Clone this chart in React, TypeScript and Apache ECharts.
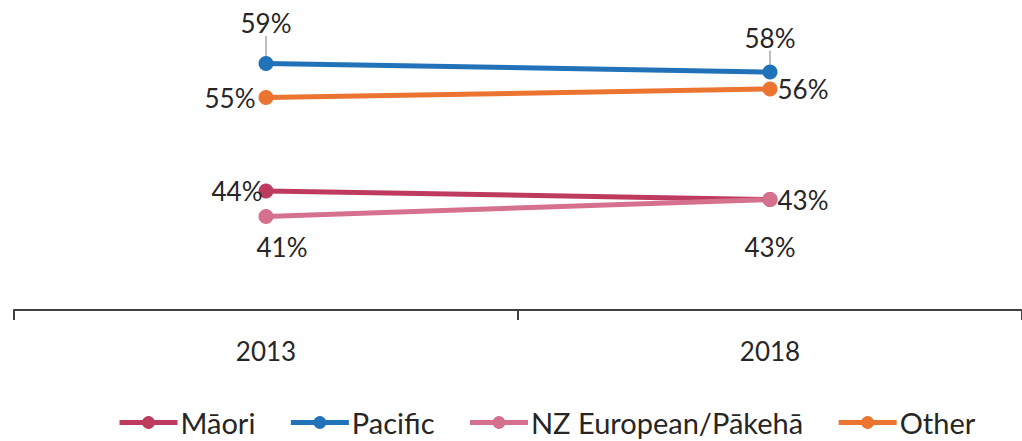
import React, { useEffect, useRef } from "react";
import * as echarts from "echarts";

const years = ["2013", "2018"];
const maori = [44, 43];
const pacific = [59, 58];
const nzEuropean = [41, 43];
const other = [55, 56];
const seriesNames = ["Māori", "Pacific", "NZ European/Pākehā", "Other"];
const colors = ["#BE3A5E", "#2272B9", "#D6708F", "#EB7431"];

const FONT = "Lato";
const TXT = "#262626";

export default function App() {
  const ref = useRef<HTMLDivElement>(null);
  useEffect(() => {
    if (!ref.current) return;
    const chart = echarts.init(ref.current, undefined, { renderer: "svg" });
    const lbl = (position: any, distance: number, offset?: number[]) => ({
      show: true,
      position,
      distance,
      offset: offset || [0, 0],
      formatter: "{c}%",
      fontFamily: FONT,
      fontSize: 26,
      color: TXT,
    });
    const mk = (name: string, vals: number[], color: string, labels: any[], extra: any = {}) => ({
      type: "line",
      name,
      data: vals.map((v, i) => ({ value: v, label: labels[i] })),
      symbol: "circle",
      symbolSize: 15,
      lineStyle: { width: 5, color },
      itemStyle: { color },
      ...extra,
    });
    chart.setOption({
      animation: false,
      color: colors,
      grid: { left: 14, right: -8, top: 4, bottom: 131, containLabel: false },
      xAxis: {
        type: "category",
        data: years,
        boundaryGap: true,
        axisLine: { lineStyle: { color: "#404040", width: 2 } },
        axisTick: { show: true, length: 10, lineStyle: { color: "#404040", width: 2 } },
        axisLabel: { fontFamily: FONT, fontSize: 26, color: TXT, margin: 28 },
      },
      yAxis: {
        type: "value",
        min: 30,
        max: 66,
        show: false,
        splitLine: { show: false },
      },
      legend: {
        left: 117,
        top: 408,
        padding: 0,
        itemWidth: 58,
        itemHeight: 16,
        itemGap: 33,
        lineStyle: { width: 5 },
        textStyle: { fontFamily: FONT, fontSize: 29, color: TXT, padding: [0, 0, 0, -2] },
        data: seriesNames,
      },
      series: [
        mk(seriesNames[0], maori, colors[0], [lbl("left", -4), lbl("right", 0)]),
        mk(seriesNames[1], pacific, colors[1], [lbl("top", 6), lbl("top", 14)], {
          labelLine: { show: true, length2: 0, lineStyle: { color: "#BFBFBF", width: 2 } },
          labelLayout: (p: any) => (p.dataIndex === 0 ? { dy: -14 } : {}),
        }),
        mk(seriesNames[2], nzEuropean, colors[2], [lbl("bottom", 10, [16, 0]), lbl("bottom", 27)]),
        mk(seriesNames[3], other, colors[3], [lbl("left", 3), lbl("right", 0)]),
      ],
    });
    return () => chart.dispose();
  }, []);
  return (
    <div
      ref={ref}
      style={{ position: "fixed", left: 0, top: 0, width: 1022, height: 441, background: "#fff" }}
    />
  );
}
